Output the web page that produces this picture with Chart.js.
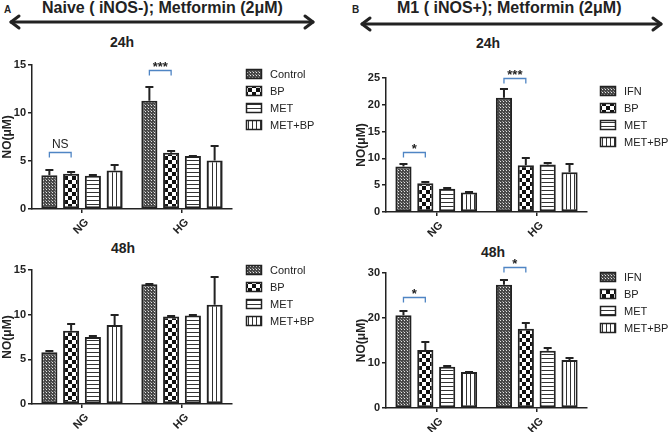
<!DOCTYPE html>
<html>
<head>
<meta charset="utf-8">
<script src="https://cdn.jsdelivr.net/npm/chart.js@4.4.0/dist/chart.umd.min.js"></script>
<style>
  body { margin: 0; width: 668px; height: 432px; overflow: hidden; background: #fff; position: relative;
         font-family: Arial, "Liberation Sans", sans-serif; color: #222; }
  .t { position: absolute; font-weight: bold; white-space: nowrap; }
  .title { font-size: 16px; line-height: 16px; top: 0; }
  .letter { font-size: 10px; line-height: 10px; top: 5px; }
  .time { font-size: 14px; line-height: 14px; }
  canvas { position: absolute; }
  svg { position: absolute; left: 0; top: 0; }
</style>
</head>
<body>
<div class="t letter" style="left:4px">A</div>
<div class="t title" style="left:42px">Naive ( iNOS-); Metformin (2μM)</div>
<div class="t letter" style="left:352px">B</div>
<div class="t title" style="left:397px">M1 ( iNOS+); Metformin (2μM)</div>
<svg width="668" height="40">
  <g stroke="#222" stroke-width="3" fill="none" stroke-linecap="round" stroke-linejoin="round">
    <line x1="11" y1="22" x2="313" y2="22"/>
    <polyline points="19,16 11,22 19,28"/>
    <polyline points="305,16 313,22 305,28"/>
    <line x1="362" y1="24" x2="661" y2="24"/>
    <polyline points="370,18 362,24 370,30"/>
    <polyline points="653,18 661,24 653,30"/>
  </g>
</svg>
<div class="t time" style="left:110px;top:35px">24h</div>
<div class="t time" style="left:476px;top:36px">24h</div>
<div class="t time" style="left:111px;top:241px">48h</div>
<div class="t time" style="left:481px;top:245px">48h</div>

<canvas id="a24" width="334" height="183" style="left:0;top:56px"></canvas>
<canvas id="a48" width="334" height="178" style="left:0;top:256px"></canvas>
<canvas id="b24" width="334" height="184" style="left:334px;top:58px"></canvas>
<canvas id="b48" width="334" height="182" style="left:334px;top:250px"></canvas>

<script>
// данные графиков: значения по группам [NG, HG]
const groups = ['NG', 'HG'];
const seriesA = ['Control', 'BP', 'MET', 'MET+BP'];
const seriesB = ['IFN', 'BP', 'MET', 'MET+BP'];

// Naive, 24h
const a24Mean = [[3.5, 11.25], [3.65, 5.85], [3.45, 5.5], [4.0, 5.05]];
const a24Err  = [[0.5, 1.45], [0.15, 0.2], [0.05, 0.05], [0.55, 1.45]];
// Naive, 48h
const a48Mean = [[5.8, 13.4], [8.2, 9.8], [7.5, 9.9], [8.85, 11.1]];
const a48Err  = [[0.1, 0.08], [0.75, 0.1], [0.08, 0.08], [1.1, 3.1]];
// M1, 24h
const b24Mean = [[8.5, 21.3], [5.35, 8.7], [4.35, 8.85], [3.65, 7.4]];
const b24Err  = [[0.4, 1.6], [0.2, 1.4], [0.15, 0.35], [0.05, 1.5]];
// M1, 48h
const b48Mean = [[20.6, 27.4], [12.9, 17.6], [9.15, 12.7], [8.0, 10.65]];
const b48Err  = [[0.95, 1.1], [1.7, 1.25], [0.15, 0.55], [0.05, 0.55]];

// шкалы по Y
const a24Ticks = [0, 15, 5];
const a48Ticks = [0, 15, 5];
const b24Ticks = [0, 25, 5];
const b48Ticks = [0, 30, 10];

// скобки значимости: группа, столбцы, уровень, подпись
const a24Sig = [{group: 0, from: 0, to: 1, value: 5.9, text: 'NS'}, {group: 1, from: 0, to: 1, value: 14.4, text: '***'}];
const a48Sig = [];
const b24Sig = [{group: 0, from: 0, to: 1, value: 11.2, text: '*'}, {group: 1, from: 0, to: 1, value: 25.0, text: '***'}];
const b48Sig = [{group: 0, from: 0, to: 1, value: 24.7, text: '*'}, {group: 1, from: 0, to: 1, value: 31.4, text: '*'}];

// штриховки
function makePattern(kind) {
  const c = document.createElement('canvas');
  const g = c.getContext('2d');
  if (kind === 'fine') {
    c.width = 3; c.height = 3;
    g.fillStyle = '#484848'; g.fillRect(0, 0, 3, 3);
    g.fillStyle = '#e6e6e6'; g.fillRect(1, 1, 1, 1);
    g.fillStyle = '#9a9a9a'; g.fillRect(0, 0, 1, 1);
  } else if (kind === 'check') {
    c.width = 8; c.height = 8;
    g.fillStyle = '#fff'; g.fillRect(0, 0, 8, 8);
    g.fillStyle = '#111'; g.fillRect(0, 0, 4, 4); g.fillRect(4, 4, 4, 4);
  } else if (kind === 'hlines') {
    c.width = 4; c.height = 4;
    g.fillStyle = '#fff'; g.fillRect(0, 0, 4, 4);
    g.fillStyle = '#333'; g.fillRect(0, 0, 4, 1);
  } else {
    c.width = 4; c.height = 4;
    g.fillStyle = '#fff'; g.fillRect(0, 0, 4, 4);
    g.fillStyle = '#333'; g.fillRect(0, 0, 1, 4);
  }
  return g.createPattern(c, 'repeat');
}
const fills = [makePattern('fine'), makePattern('check'), makePattern('hlines'), makePattern('vlines')];

// error bars, скобки и легенда
const extras = {
  id: 'extras',
  afterDatasetsDraw(chart, args, opts) {
    const ctx = chart.ctx;
    const y = chart.scales.y;
    const area = chart.chartArea;
    ctx.save();
    ctx.strokeStyle = '#222';
    ctx.lineWidth = 2;
    chart.data.datasets.forEach((ds, i) => {
      chart.getDatasetMeta(i).data.forEach((bar, j) => {
        if (ds.err[j] <= 0) return;
        const top = Math.round(y.getPixelForValue(ds.data[j] + ds.err[j]));
        ctx.beginPath();
        ctx.moveTo(bar.x, bar.y);
        ctx.lineTo(bar.x, top);
        ctx.moveTo(bar.x - 4, top);
        ctx.lineTo(bar.x + 4, top);
        ctx.stroke();
      });
    });

    opts.brackets.forEach(b => {
      const x1 = chart.getDatasetMeta(b.from).data[b.group].x;
      const x2 = chart.getDatasetMeta(b.to).data[b.group].x;
      const yb = Math.round(y.getPixelForValue(b.value)) + 0.5;
      ctx.strokeStyle = '#4f85c4';
      ctx.lineWidth = 1.3;
      ctx.beginPath();
      ctx.moveTo(x1, yb + 5);
      ctx.lineTo(x1, yb);
      ctx.lineTo(x2, yb);
      ctx.lineTo(x2, yb + 5);
      ctx.stroke();
      ctx.fillStyle = '#222';
      ctx.font = b.text === 'NS' ? '12px Arial' : 'bold 13px Arial';
      ctx.textAlign = 'center';
      ctx.textBaseline = 'bottom';
      ctx.fillText(b.text, (x1 + x2) / 2, yb - 2 + (b.text === 'NS' ? 0 : 5));
    });

    ctx.font = '11px Arial';
    ctx.textAlign = 'left';
    ctx.textBaseline = 'middle';
    chart.data.datasets.forEach((ds, i) => {
      const bx = Math.round(area.right + opts.legend.dx);
      const by = Math.round(area.top + opts.legend.dy + i * 17);
      ctx.fillStyle = ds.backgroundColor;
      ctx.fillRect(bx, by - 5, 16, 10);
      ctx.strokeStyle = '#222';
      ctx.lineWidth = 1.5;
      ctx.strokeRect(bx + 0.5, by - 4.5, 15, 9);
      ctx.fillStyle = '#222';
      ctx.fillText(ds.label, bx + 24, by + 1);
    });
    ctx.restore();
  }
};

function buildChart(id, names, means, errs, ticks, sig, pad, xHeight, legendPos) {
  const datasets = names.map((name, i) => ({
    label: name,
    data: means[i],
    err: errs[i],
    backgroundColor: fills[i],
    borderColor: '#222',
    borderWidth: 2,
    borderSkipped: false,
    categoryPercentage: 0.87,
    barPercentage: 0.74
  }));
  return new Chart(document.getElementById(id), {
    type: 'bar',
    data: {labels: groups, datasets: datasets},
    plugins: [extras],
    options: {
      responsive: false,
      animation: false,
      layout: {padding: pad},
      plugins: {
        legend: {display: false},
        tooltip: {enabled: false},
        extras: {brackets: sig, legend: legendPos}
      },
      scales: {
        x: {
          offset: true,
          afterFit: s => { s.height = xHeight; },
          border: {color: '#222', width: 1.5},
          grid: {offset: false, drawOnChartArea: false, tickLength: 4, color: '#222', lineWidth: 1.5},
          ticks: {minRotation: 45, maxRotation: 45, labelOffset: 5, color: '#222', padding: 3, font: {family: 'Arial', size: 11, weight: 'bold'}}
        },
        y: {
          min: ticks[0],
          max: ticks[1],
          afterFit: s => { s.width = 32; },
          border: {color: '#222', width: 1.5},
          grid: {drawOnChartArea: false, tickLength: 4, color: '#222', lineWidth: 1.5},
          ticks: {stepSize: ticks[2], color: '#222', padding: 2, font: {family: 'Arial', size: 11, weight: 'bold'}},
          title: {display: true, text: 'NO(μM)', color: '#222', padding: 0, font: {family: 'Arial', size: 12, weight: 'bold'}}
        }
      }
    }
  });
}

buildChart('a24', seriesA, a24Mean, a24Err, a24Ticks, a24Sig, {top: 8, right: 102, left: 0, bottom: 0}, 30, {dx: 14, dy: 9});
buildChart('a48', seriesA, a48Mean, a48Err, a48Ticks, a48Sig, {top: 14, right: 102, left: 0, bottom: 0}, 30, {dx: 14, dy: 0});
buildChart('b24', seriesB, b24Mean, b24Err, b24Ticks, b24Sig, {top: 20, right: 81, left: 20, bottom: 0}, 30, {dx: 13, dy: 13});
buildChart('b48', seriesB, b48Mean, b48Err, b48Ticks, b48Sig, {top: 23, right: 81, left: 20, bottom: 0}, 24, {dx: 13, dy: 4});
</script>
</body>
</html>
